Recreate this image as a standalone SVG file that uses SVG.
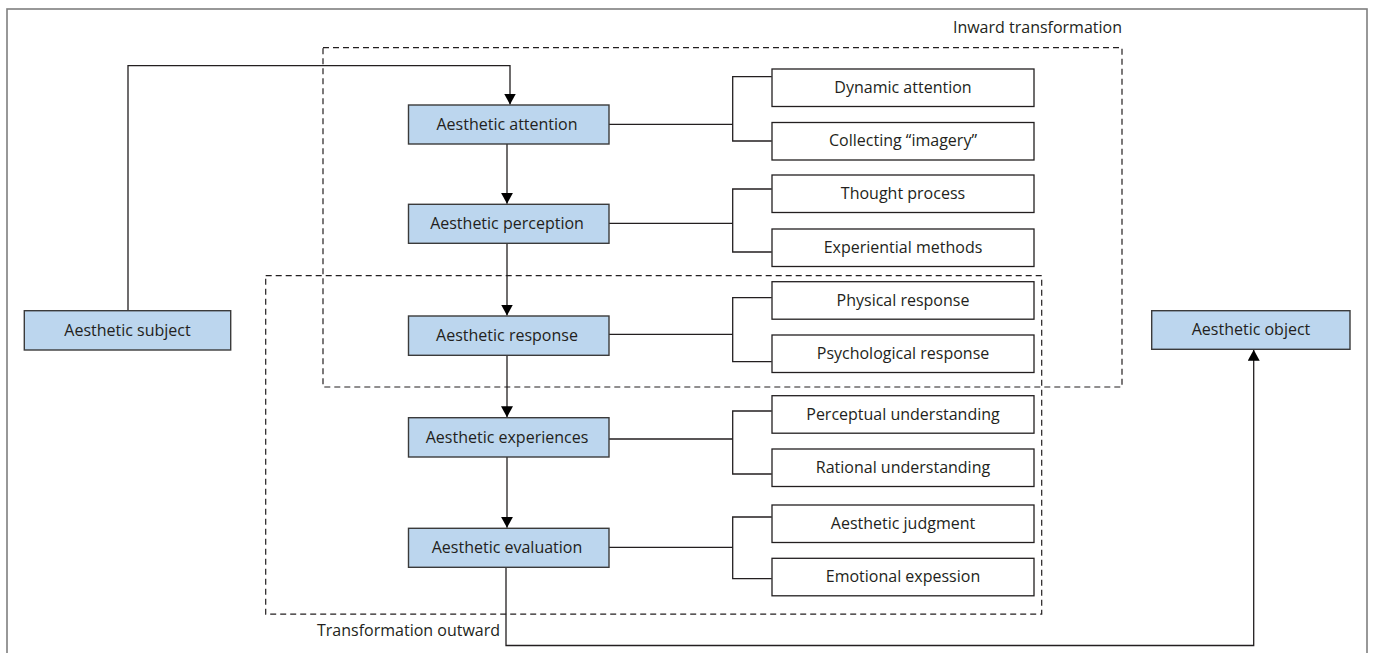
<svg xmlns="http://www.w3.org/2000/svg" width="1373" height="653" viewBox="0 0 1373 653">
<style>
.frame{fill:none;stroke:#7f7f7f;stroke-width:1.6}
.main{fill:#bcd6ee;stroke:#3b3b3b;stroke-width:1.4}
.sub{fill:#ffffff;stroke:#231f20;stroke-width:1.3}
.dash{fill:none;stroke:#231f20;stroke-width:1.2;stroke-dasharray:6 4}
.ln{fill:none;stroke:#231f20;stroke-width:1.3}
.arr{fill:none;stroke:#231f20;stroke-width:1.3;marker-end:url(#ah)}
text{font-family:"Open Sans","Noto Sans","Liberation Sans",sans-serif;font-size:16px;fill:#231f20}
.c{text-anchor:middle}
</style>
<defs>
<marker id="ah" markerUnits="userSpaceOnUse" markerWidth="12" markerHeight="12" refX="11" refY="6" orient="auto">
<path d="M0,0 L11,6 L0,12 Z" fill="#000"/>
</marker>
</defs>
<rect class="frame" x="7" y="9" width="1360" height="660"/>
<g id="inward-group">
<rect class="dash" x="323" y="47.7" width="799" height="339.3"/>
<text x="1122" y="33" text-anchor="end">Inward transformation</text>
</g>
<g id="outward-group">
<rect class="dash" x="265.7" y="275.7" width="776" height="338.5"/>
<text x="317" y="636">Transformation outward</text>
</g>
<g id="connectors">
<path class="arr" d="M128,310.7 V65.7 H510 V104.5"/>
<path class="arr" d="M507,144 V203.8"/>
<path class="arr" d="M507,243.3 V315.5"/>
<path class="arr" d="M507,355.3 V417.2"/>
<path class="arr" d="M507,457 V527.8"/>
<path class="arr" d="M506,567.3 V645.5 H1253.7 V349.8"/>
<path class="ln" d="M609,124.3 H732.7 M771.7,76.7 H732.7 V141 H771.7"/>
<path class="ln" d="M609,223.3 H732.7 M771.7,189 H732.7 V252 H771.7"/>
<path class="ln" d="M609,334.3 H732.7 M771.7,297.7 H732.7 V361.7 H771.7"/>
<path class="ln" d="M609,439 H732.7 M771.7,411 H732.7 V474 H771.7"/>
<path class="ln" d="M609,547.3 H732.7 M771.7,517 H732.7 V578.7 H771.7"/>
</g>
<g id="subject"><rect class="main" x="24.3" y="310.7" width="206.4" height="39.3"/><text class="c" x="127.5" y="335.5">Aesthetic subject</text></g>
<g id="object"><rect class="main" x="1151.7" y="310.7" width="198.3" height="38.6"/><text class="c" x="1251" y="335.3">Aesthetic object</text></g>
<g id="attention"><rect class="main" x="408.5" y="105" width="200.5" height="39"/><text class="c" x="507" y="129.5">Aesthetic attention</text></g>
<g id="perception"><rect class="main" x="408.5" y="204.3" width="200.5" height="39"/><text class="c" x="507" y="228.8">Aesthetic perception</text></g>
<g id="response"><rect class="main" x="408.5" y="316" width="200.5" height="39.3"/><text class="c" x="507" y="340.8">Aesthetic response</text></g>
<g id="experiences"><rect class="main" x="408.5" y="417.7" width="200.5" height="39.3"/><text class="c" x="507" y="442.6">Aesthetic experiences</text></g>
<g id="evaluation"><rect class="main" x="408.5" y="528.3" width="200.5" height="39"/><text class="c" x="507" y="553">Aesthetic evaluation</text></g>
<g id="dynamic-attention"><rect class="sub" x="772" y="69" width="262" height="37.5"/><text class="c" x="903" y="92.5">Dynamic attention</text></g>
<g id="collecting-imagery"><rect class="sub" x="772" y="122.5" width="262" height="37.5"/><text class="c" x="903" y="146">Collecting “imagery”</text></g>
<g id="thought-process"><rect class="sub" x="772" y="175" width="262" height="37.5"/><text class="c" x="903" y="198.5">Thought process</text></g>
<g id="experiential-methods"><rect class="sub" x="772" y="229" width="262" height="37.5"/><text class="c" x="903" y="252.5">Experiential methods</text></g>
<g id="physical-response"><rect class="sub" x="772" y="281.7" width="262" height="37.5"/><text class="c" x="903" y="305.5">Physical response</text></g>
<g id="psychological-response"><rect class="sub" x="772" y="335" width="262" height="37.5"/><text class="c" x="903" y="358.8">Psychological response</text></g>
<g id="perceptual-understanding"><rect class="sub" x="772" y="395.7" width="262" height="37.5"/><text class="c" x="903" y="419.5">Perceptual understanding</text></g>
<g id="rational-understanding"><rect class="sub" x="772" y="449" width="262" height="37.5"/><text class="c" x="903" y="472.8">Rational understanding</text></g>
<g id="aesthetic-judgment"><rect class="sub" x="772" y="505" width="262" height="37.5"/><text class="c" x="903" y="528.8">Aesthetic judgment</text></g>
<g id="emotional-expession"><rect class="sub" x="772" y="558.3" width="262" height="37.5"/><text class="c" x="903" y="582">Emotional expession</text></g>
</svg>
